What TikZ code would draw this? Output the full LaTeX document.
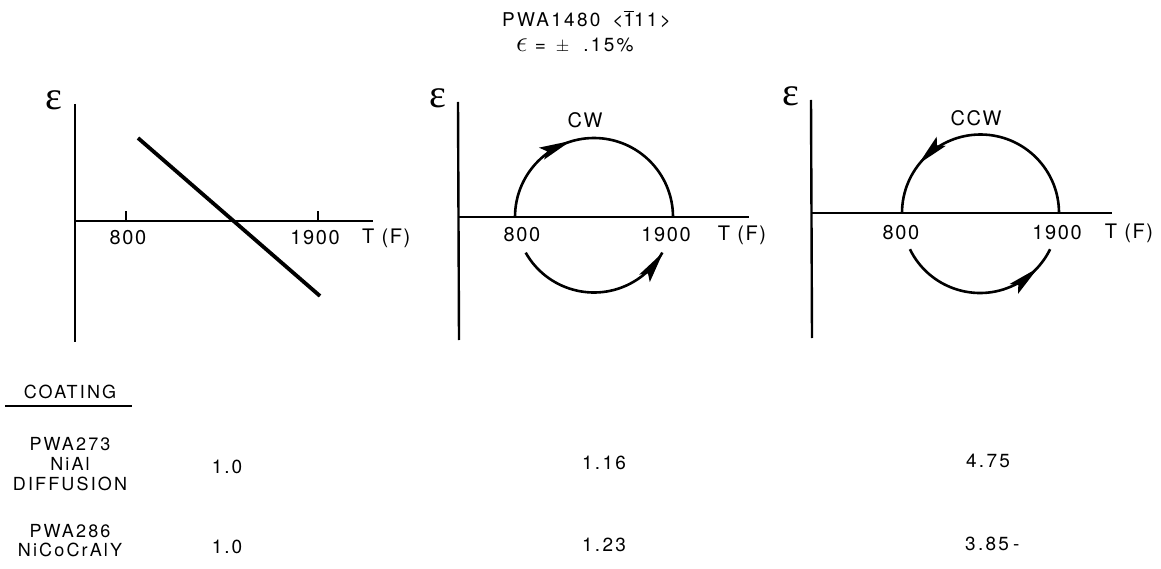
\documentclass[tikz,border=0pt]{standalone}
\usepackage{fontspec}
\setmainfont{TeX Gyre Heros}
\newfontfamily\labA[LetterSpace=8]{TeX Gyre Heros}
\newfontfamily\labB[LetterSpace=12]{TeX Gyre Heros}
\newfontfamily\epsf{Liberation Serif}
\usetikzlibrary{decorations.markings}
\tikzset{
  axis/.style={line width=2.4pt},
  curve/.style={line width=2.6pt},
  ttl/.style={font=\labB\fontsize{19}{21}\selectfont, inner sep=0pt},
  lbl/.style={font=\labA\fontsize{20}{22}\selectfont, inner sep=0pt},
  val/.style={font=\labB\fontsize{19}{22}\selectfont, inner sep=0pt},
  coat/.style={font=\labB\fontsize{18}{21}\selectfont, inner sep=0pt, align=center},
  eps/.style={font=\epsf\fontsize{40}{42}\selectfont, inner sep=0pt},
  headat/.style={postaction={decorate,decoration={markings,mark=at position #1 with
     {\fill (9pt,0pt) -- (-23pt,6.5pt) -- (-17pt,0pt) -- (-23pt,-6.5pt) -- cycle;}}}}
}
\begin{document}
\begin{tikzpicture}[x=1pt,y=1pt]
\useasboundingbox[fill=white] (0,0) rectangle (1161,-569);
% title
\node[ttl,anchor=west] (title) at (502,-19) {PWA1480\hspace{12pt}<$\overline{\mbox{1}}$11>};
\node[ttl,anchor=west] (strain) at (516,-45) {\smash{\scalebox{1.7}{$\epsilon$}}\hspace{7pt}=\hspace{10pt}$\pm$\hspace{14pt}.15\%};

% ---------- graph 1 ----------
\coordinate (a1t) at (75,-104);
\coordinate (a1b) at (75,-342);
\coordinate (a1l) at (75,-221);
\coordinate (a1r) at (373,-221);
\draw[axis] (a1t) -- (a1b);
\draw[axis] (a1l) -- (a1r);
\coordinate (t1a) at (126,-221); \coordinate (t1at) at (126,-211);
\coordinate (t1b) at (318,-221); \coordinate (t1bt) at (318,-211);
\draw[line width=1.5pt] (t1a) -- (t1at);
\draw[line width=1.5pt] (t1b) -- (t1bt);
\node[eps] (e1) at (54,-100) {ε};
\node[lbl] (l1a) at (128,-238) {800};
\node[lbl] (l1b) at (315,-238) {1900};
\node[lbl,anchor=west] (l1c) at (362,-238) {T (F)};
\coordinate (d1) at (138,-138);
\coordinate (d2) at (320,-296);
\draw[line width=3.8pt] (d1) -- (d2);

% ---------- graph 2 ----------
\coordinate (a2t) at (458,-102);
\coordinate (a2b) at (459,-340);
\coordinate (a2l) at (458,-217);
\coordinate (a2r) at (749,-217);
\draw[axis] (a2t) -- (a2b);
\draw[axis] (a2l) -- (a2r);
\node[eps] (e2) at (438,-98) {ε};
\node[lbl] (l2a) at (522,-235) {800};
\node[lbl] (l2b) at (666,-235) {1900};
\node[lbl] (l2c) at (742,-235) {T (F)};
\node[lbl] (cw) at (585,-120) {CW};
\coordinate (c2l) at (515,-217);
\draw[curve,headat=0.37] (c2l) arc[start angle=180,end angle=0,radius=79] coordinate (c2r);
\draw[curve,headat=0.95] (594,-214) ++(209.5:78.5) coordinate (c2s) arc[start angle=209.5,end angle=330.5,radius=78.5] coordinate (c2e);

% ---------- graph 3 ----------
\coordinate (a3t) at (811,-100);
\coordinate (a3b) at (812,-338);
\coordinate (a3l) at (811,-213);
\coordinate (a3r) at (1112,-213);
\draw[axis] (a3t) -- (a3b);
\draw[axis] (a3l) -- (a3r);
\node[eps] (e3) at (791,-96) {ε};
\node[lbl] (l3a) at (901,-233) {800};
\node[lbl] (l3b) at (1057,-233) {1900};
\node[lbl] (l3c) at (1129,-233) {T (F)};
\node[lbl] (ccw) at (976,-118) {CCW};
\coordinate (c3r) at (1059,-213);
\draw[curve,headat=0.75] (c3r) arc[start angle=0,end angle=180,radius=78.5] coordinate (c3l);
\draw[curve,headat=0.82] (980,-215) ++(206:78) coordinate (c3s) arc[start angle=206,end angle=334,radius=78] coordinate (c3e);

% ---------- table ----------
\node[coat] (coat) at (70,-392) {COATING};
\coordinate (u1) at (5,-406);
\coordinate (u2) at (132,-406);
\draw[line width=1.4pt] (u1) -- (u2);
\node[coat] (c1) at (70,-464) {PWA273\\[-1pt]NiAl\\[-1pt]DIFFUSION};
\node[coat] (c2) at (70,-541) {PWA286\\[-2pt]NiCoCrAlY};
\node[val] (v11) at (227,-467) {1\hspace{2pt}.\hspace{2pt}0};
\node[val] (v12) at (227,-547) {1\hspace{2pt}.\hspace{2pt}0};
\node[val] (v21) at (604,-463) {1.16};
\node[val] (v22) at (604,-545) {1.23};
\node[val] (v31) at (988,-461) {4.75};
\node[val,anchor=west] (v32) at (965,-544) {3.85\hspace{4pt}-};
\end{tikzpicture}
\end{document}
